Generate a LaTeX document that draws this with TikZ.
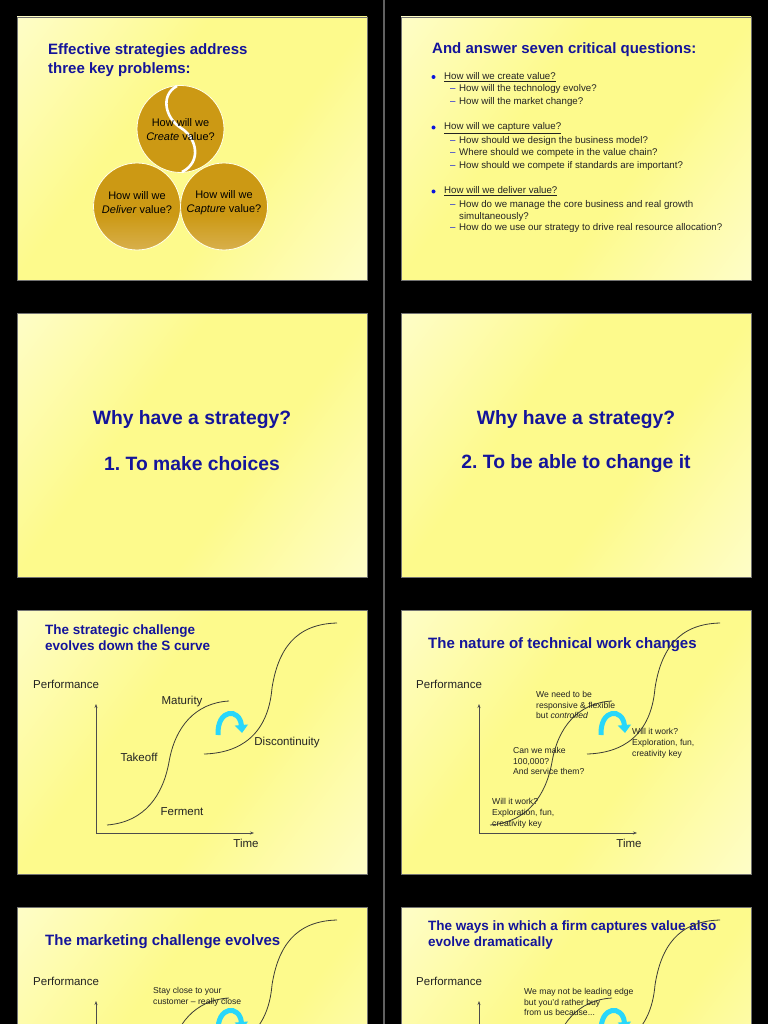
\documentclass[tikz,border=0pt]{standalone}
\usepackage{fontspec}
\setmainfont{Liberation Sans}
\usetikzlibrary{arrows.meta}
\definecolor{bgyel}{RGB}{253,250,140}
\definecolor{bglight}{RGB}{255,255,235}
\definecolor{ttl}{RGB}{20,20,155}
\definecolor{gold}{RGB}{204,153,20}
\definecolor{tanc}{RGB}{230,204,146}
\definecolor{arrowcyan}{RGB}{40,215,250}
\definecolor{curvegray}{RGB}{60,60,55}
\definecolor{bulletblue}{RGB}{10,20,220}
\definecolor{bodygray}{RGB}{35,35,35}
\pgfdeclarehorizontalshading{slidebg}{100bp}{color(0bp)=(bglight); color(40bp)=(bgyel); color(60bp)=(bgyel); color(100bp)=(bglight)}
\pgfdeclareverticalshading{circfade}{100bp}{color(0bp)=(tanc); color(45bp)=(gold); color(100bp)=(gold)}
\tikzset{
  slide/.style={shading=slidebg, shading angle=-37, draw=black!55, line width=0.6},
  slidetitle/.style={font=\bfseries\fontsize{15}{19}\selectfont, text=ttl, align=left, inner sep=0, anchor=west},
  smalltitle/.style={font=\bfseries\fontsize{13.5}{16}\selectfont, text=ttl, align=left, inner sep=0, anchor=west},
  bigtitle/.style={font=\bfseries\fontsize{19.3}{23}\selectfont, text=ttl, inner sep=0},
  circ/.style={circle, inner sep=0, minimum size=87pt, draw=bglight, line width=0.8},
  circtext/.style={font=\fontsize{11}{14}\selectfont, align=center, inner sep=0},
  bodytext/.style={font=\fontsize{9.7}{11.5}\selectfont, text=bodygray, inner sep=0, anchor=west, align=left, text height=7pt, text depth=2pt},
  dashmark/.style={font=\fontsize{9.7}{11.5}\selectfont, text=bulletblue, inner sep=0, anchor=west, text height=7pt, text depth=2pt},
  bulletdot/.style={circle, fill=bulletblue, inner sep=0, minimum size=4pt},
  chartlabel/.style={font=\fontsize{11.5}{14}\selectfont, text=bodygray, inner sep=0},
  smalllabel/.style={font=\fontsize{8.6}{10.8}\selectfont, text=bodygray, inner sep=0, align=left, anchor=west},
  axisline/.style={draw=black!70, line width=0.7, -{Stealth[length=4pt,width=3pt]}},
  scurve/.style={draw=curvegray, line width=0.8},
  turnarrow/.style={draw=arrowcyan, line width=5, -{Triangle[length=8pt,width=13pt]}}
}
\newcommand\chartbase{%
  \coordinate (origin) at (96,833);
  \coordinate (ytop) at (96,704);
  \coordinate (xend) at (254,833);
  \draw[axisline] (origin) -- (ytop);
  \draw[axisline] (origin) -- (xend);
  \node (perf) [chartlabel, anchor=west] at (33,684) {Performance};
  \draw[scurve] (107,825) .. controls (145,822) and (163,795) .. (169,762) .. controls (175,727) and (195,703) .. (229,701);
  \draw[scurve] (204,754) .. controls (240,753) and (268,735) .. (272,688) .. controls (278,650) and (295,624) .. (337,623);
  \draw[turnarrow] (218,735) .. controls (217,708) and (240,708) .. (242,733);
}
\newcommand\charttime{\node (time) [chartlabel] at (246,843) {Time};}
\begin{document}
\begin{tikzpicture}[x=1pt,y=-1pt]
\useasboundingbox (0,0) rectangle (768,1024);
\fill[black] (0,0) rectangle (768,1024);
\clip (0,0) rectangle (768,1024);
\draw[line width=1.5, black!62!white] (384,0) -- (384,1024);
% slides
\shadedraw[slide] (17,17) rectangle (367,280);
\shadedraw[slide] (401,17) rectangle (751,280);
\shadedraw[slide] (17,313) rectangle (367,577);
\shadedraw[slide] (401,313) rectangle (751,577);
\shadedraw[slide] (17,610) rectangle (367,874);
\shadedraw[slide] (401,610) rectangle (751,874);
\shadedraw[slide] (17,907) rectangle (367,1171);
\shadedraw[slide] (401,907) rectangle (751,1171);

% slide 1
\node (t1) [slidetitle] at (48,60) {Effective strategies address\\three key problems:};
\node (deliver) [circ, shading=circfade] at (137,206.5) {};
\node (capture) [circ, shading=circfade] at (224,206.5) {};
\node (create) [circ, fill=gold] at (180.5,129) {};
\draw[white, line width=2.6] (177,86) .. controls (160,95) and (165,118) .. (181,128) .. controls (197,138) and (202,162) .. (182,172);
\node (createtxt) [circtext] at (180.5,130) {How will we\\\textit{Create} value?};
\node (delivertxt) [circtext] at (137,203) {How will we\\\textit{Deliver} value?};
\node (capturetxt) [circtext] at (224,203) {How will we\\\textit{Capture} value?};

% slide 2
\node (t2) [slidetitle] at (432,50) {And answer seven critical questions:};
\node (b1) [bulletdot] at (433.5,77) {};
\node (q1) [bodytext] at (444,77) {\underline{How will we create value?}};
\node (d11) [dashmark] at (450,89.5) {–};
\node (q11) [bodytext] at (459,89.5) {How will the technology evolve?};
\node (d12) [dashmark] at (450,102) {–};
\node (q12) [bodytext] at (459,102) {How will the market change?};
\node (b2) [bulletdot] at (433.5,127.5) {};
\node (q2) [bodytext] at (444,127.5) {\underline{How will we capture value?}};
\node (d21) [dashmark] at (450,141) {–};
\node (q21) [bodytext] at (459,141) {How should we design the business model?};
\node (d22) [dashmark] at (450,153.5) {–};
\node (q22) [bodytext] at (459,153.5) {Where should we compete in the value chain?};
\node (d23) [dashmark] at (450,166) {–};
\node (q23) [bodytext] at (459,166) {How should we compete if standards are important?};
\node (b3) [bulletdot] at (433.5,191.5) {};
\node (q3) [bodytext] at (444,191.5) {\underline{How will we deliver value?}};
\node (d31) [dashmark] at (450,205) {–};
\node (q31) [bodytext] at (459,205) {How do we manage the core business and real growth};
\node (q31b) [bodytext] at (459,216.5) {simultaneously?};
\node (d32) [dashmark] at (450,228) {–};
\node (q32) [bodytext] at (459,228) {How do we use our strategy to drive real resource allocation?};

% slides 3 and 4
\node (why1) [bigtitle] at (192,420) {Why have a strategy?};
\node (r1) [bigtitle] at (192,464) {1.\ To make choices};
\node (why2) [bigtitle] at (576,420) {Why have a strategy?};
\node (r2) [bigtitle] at (576,464) {2.\ To be able to change it};

% slide 5
\node (t5) [smalltitle] at (45,638) {The strategic challenge\\evolves down the S curve};
\begin{scope}[name prefix=c5-]
\chartbase
\charttime
\end{scope}
\node (maturity) [chartlabel] at (182,702) {Maturity};
\node (takeoff) [chartlabel] at (139,757) {Takeoff};
\node (ferment) [chartlabel] at (182,812) {Ferment};
\node (discont) [chartlabel] at (287,743) {Discontinuity};

% slide 6
\node (t6) [slidetitle] at (428,645) {The nature of technical work changes};
\begin{scope}[shift={(383,0)}, name prefix=c6-]
\chartbase
\charttime
\end{scope}
\node (l61) [smalllabel] at (536,705) {We need to be\\responsive \& flexible\\but \textit{controlled}};
\node (l62) [smalllabel] at (513,761) {Can we make\\100,000?\\And service them?};
\node (l63) [smalllabel] at (492,813.5) {Will it work?\\Exploration, fun,\\creativity key};
\node (l64) [smalllabel] at (632,743) {Will it work?\\Exploration, fun,\\creativity key};

% slide 7
\node (t7) [slidetitle] at (45,942) {The marketing challenge evolves};
\begin{scope}[shift={(0,297)}, name prefix=c7-]
\chartbase
\end{scope}
\node (l71) [smalllabel] at (153,997) {Stay close to your\\customer – really close};

% slide 8
\node (t8) [smalltitle] at (428,935) {The ways in which a firm captures value also\\evolve dramatically};
\begin{scope}[shift={(383,297)}, name prefix=c8-]
\chartbase
\end{scope}
\node (l81) [smalllabel] at (524,1002) {We may not be leading edge\\but you'd rather buy\\from us because...};
\end{tikzpicture}
\end{document}
